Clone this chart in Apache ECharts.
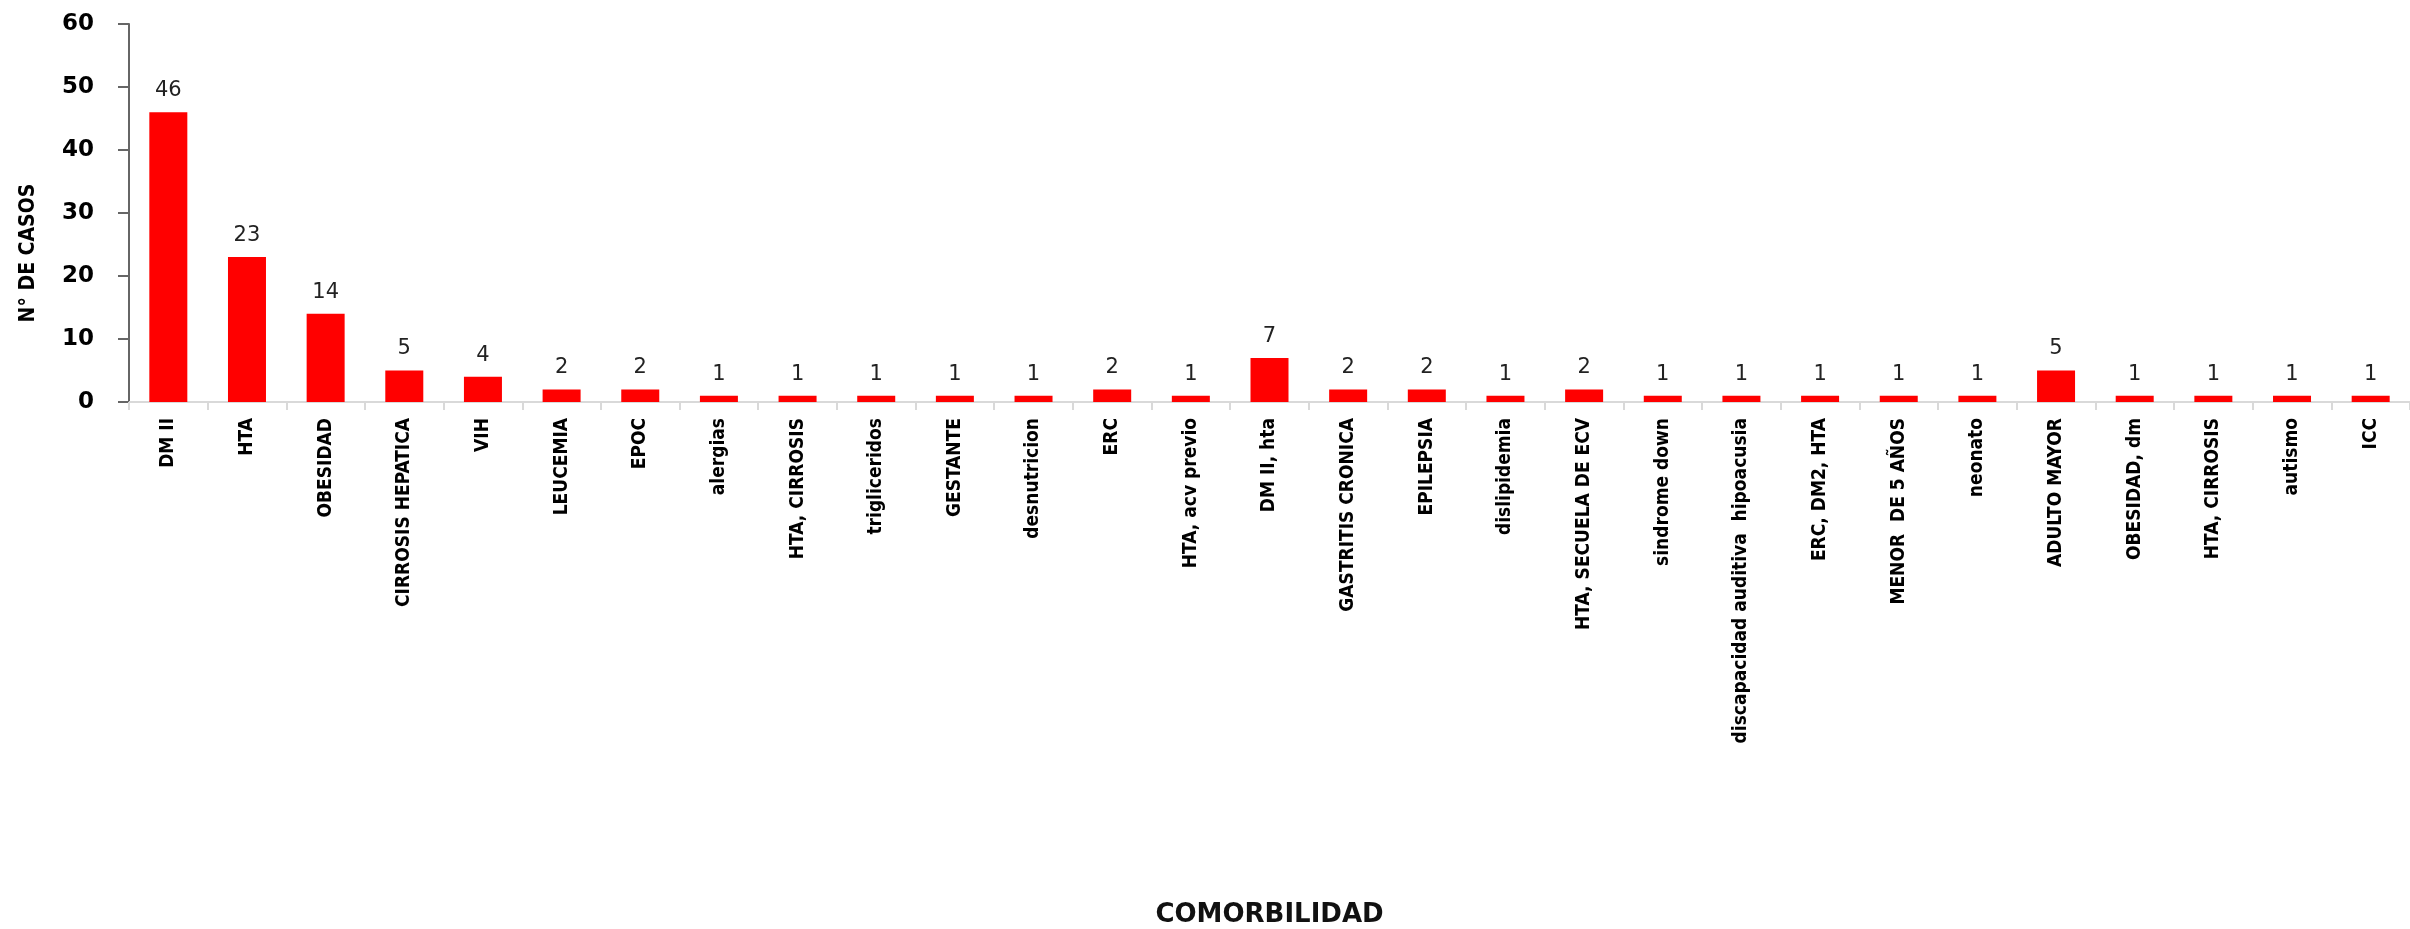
<!DOCTYPE html>
<html>
<head>
<meta charset="utf-8">
<script src="https://cdn.jsdelivr.net/npm/echarts@6/dist/echarts.min.js"></script>
<style>
html,body{margin:0;padding:0;background:#fff;}
#chart{width:2410px;height:929px;}
</style>
</head>
<body>
<div id="chart"></div>
<script>
const categories = ["DM II","HTA","OBESIDAD","CIRROSIS HEPATICA","VIH","LEUCEMIA","EPOC","alergias","HTA, CIRROSIS","trigliceridos","GESTANTE","desnutricion","ERC","HTA, acv previo","DM II, hta","GASTRITIS CRONICA","EPILEPSIA","dislipidemia","HTA, SECUELA DE ECV","sindrome down","discapacidad auditiva  hipoacusia","ERC, DM2, HTA","MENOR  DE 5 AÑOS","neonato","ADULTO MAYOR","OBESIDAD, dm","HTA, CIRROSIS","autismo","ICC"];
const casos = [46,23,14,5,4,2,2,1,1,1,1,1,2,1,7,2,2,1,2,1,1,1,1,1,5,1,1,1,1];
const yTicks = {min:0, max:60, interval:10};
const yName = "N° DE CASOS";
const xName = "COMORBILIDAD";

const chart = echarts.init(document.getElementById('chart'), null, {renderer:'canvas'});
chart.setOption({
  animation:false,
  backgroundColor:'#ffffff',
  grid:{left:129, top:24, width:2293, height:395, containLabel:false},
  xAxis:{
    type:'category',
    data:categories,
    name:xName,
    nameLocation:'middle',
    nameGap:500,
    nameTextStyle:{fontFamily:'DejaVu Sans', fontWeight:'bold', fontSize:26, color:'#111'},
    axisLine:{lineStyle:{color:'#d9d9d9', width:2}},
    axisTick:{show:true, length:8, lineStyle:{color:'#d9d9d9', width:2}},
    axisLabel:{interval:0, rotate:90, margin:16, fontFamily:'Liberation Sans Narrow, DejaVu Sans Condensed, sans-serif', fontWeight:'bold', fontSize:19, color:'#000'}
  },
  yAxis:{
    type:'value',
    min:yTicks.min, max:yTicks.max, interval:yTicks.interval,
    name:yName,
    nameLocation:'middle',
    nameRotate:90,
    nameGap:90,
    nameTextStyle:{fontFamily:'Liberation Sans Narrow, DejaVu Sans Condensed, sans-serif', fontWeight:'bold', fontSize:21, color:'#000', padding:[0,0,0,-80]},
    splitLine:{show:false},
    axisLine:{show:true, lineStyle:{color:'#666', width:2}},
    axisTick:{show:true, length:11, lineStyle:{color:'#666', width:2}},
    axisLabel:{margin:35, fontFamily:'DejaVu Sans', fontWeight:'bold', fontSize:23, color:'#000'}
  },
  series:[{
    type:'bar',
    data:casos,
    barWidth:38,
    itemStyle:{color:'#ff0000'},
    label:{show:true, position:'top', distance:11, fontFamily:'DejaVu Sans', fontSize:21, color:'#222'}
  }]
});
</script>
</body>
</html>
